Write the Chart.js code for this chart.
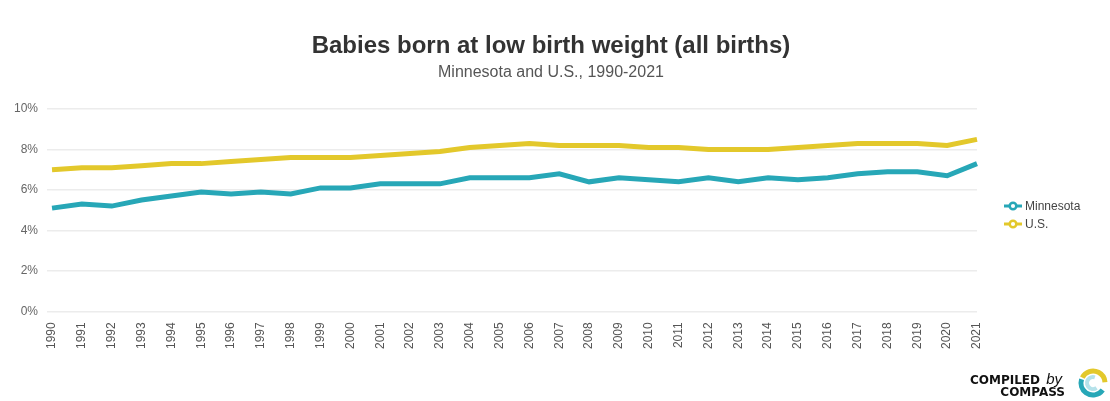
<!DOCTYPE html>
<html lang="en">
<head>
  <meta charset="UTF-8" />
  <title>Babies born at low birth weight</title>
  <script src="https://cdn.jsdelivr.net/npm/chart.js"></script>
  <style>
    html, body { margin: 0; padding: 0; background: #fff; }
    #wrap { width: 1110px; height: 401px; position: relative; }
  </style>
</head>
<body>
  <div id="wrap"><canvas id="lineChart"></canvas></div>
  <script>
    const years = ['1990','1991','1992','1993','1994','1995','1996','1997','1998','1999','2000',
      '2001','2002','2003','2004','2005','2006','2007','2008','2009','2010',
      '2011','2012','2013','2014','2015','2016','2017','2018','2019','2020','2021'];
    const minnesota = [5.1, 5.3, 5.2, 5.5, 5.7, 5.9, 5.8, 5.9, 5.8, 6.1, 6.1,
      6.3, 6.3, 6.3, 6.6, 6.6, 6.6, 6.8, 6.4, 6.6, 6.5,
      6.4, 6.6, 6.4, 6.6, 6.5, 6.6, 6.8, 6.9, 6.9, 6.7, 7.3];
    const us = [7.0, 7.1, 7.1, 7.2, 7.3, 7.3, 7.4, 7.5, 7.6, 7.6, 7.6,
      7.7, 7.8, 7.9, 8.1, 8.2, 8.3, 8.2, 8.2, 8.2, 8.1,
      8.1, 8.0, 8.0, 8.0, 8.1, 8.2, 8.3, 8.3, 8.3, 8.2, 8.5];

    const tealColor = '#27a7b7';
    const yellowColor = '#e3c82b';

    // legend drawn by hand: short line with an open circle, then the label
    const sideLegend = {
      id: 'sideLegend',
      afterDraw(chart) {
        const ctx = chart.ctx;
        ctx.save();
        ctx.font = '12px "Liberation Sans", Arial, sans-serif';
        ctx.textBaseline = 'middle';
        ctx.textAlign = 'left';
        chart.data.datasets.forEach((ds, i) => {
          const x = 1004, y = 206 + i * 18;
          ctx.strokeStyle = ds.borderColor;
          ctx.lineWidth = 3;
          ctx.beginPath(); ctx.moveTo(x, y); ctx.lineTo(x + 18, y); ctx.stroke();
          ctx.fillStyle = '#fff';
          ctx.lineWidth = 2.5;
          ctx.beginPath(); ctx.arc(x + 9, y, 3.3, 0, Math.PI * 2); ctx.fill(); ctx.stroke();
          ctx.fillStyle = '#444';
          ctx.fillText(ds.label, x + 21, y + 0.5);
        });
        ctx.restore();
      }
    };

    const compassLogo = {
      id: 'compassLogo',
      afterDraw(chart) {
        const ctx = chart.ctx;
        ctx.save();
        ctx.fillStyle = '#111';
        ctx.textAlign = 'right';
        ctx.textBaseline = 'alphabetic';
        ctx.font = 'italic 15px "Liberation Sans", Arial, sans-serif';
        ctx.fillText('by', 1062, 384);
        ctx.font = 'bold 12px "DejaVu Sans", sans-serif';
        ctx.fillText('COMPILED', 1040, 384);
        ctx.fillText('COMPASS', 1065, 396);
        // ring
        const cx = 1093, cy = 383;
        ctx.lineWidth = 5;
        ctx.strokeStyle = yellowColor;
        ctx.beginPath(); ctx.arc(cx, cy, 12, -Math.PI * 0.85, -Math.PI * 0.02); ctx.stroke();
        ctx.strokeStyle = tealColor;
        ctx.beginPath(); ctx.arc(cx, cy, 12, Math.PI * 0.2, Math.PI * 1.1); ctx.stroke();
        ctx.strokeStyle = '#b5e2ea';
        ctx.lineWidth = 4;
        ctx.beginPath(); ctx.arc(cx, cy, 6, Math.PI * 0.3, Math.PI * 1.6); ctx.stroke();
        ctx.restore();
      }
    };

    Chart.defaults.font.family = '"Liberation Sans", Arial, sans-serif';
    Chart.defaults.color = '#666';

    new Chart(document.getElementById('lineChart').getContext('2d'), {
      type: 'line',
      data: {
        labels: years,
        datasets: [
          { label: 'Minnesota', data: minnesota, borderColor: tealColor, backgroundColor: tealColor },
          { label: 'U.S.', data: us, borderColor: yellowColor, backgroundColor: yellowColor }
        ]
      },
      options: {
        responsive: true,
        maintainAspectRatio: false,
        animation: false,
        elements: {
          line: { borderWidth: 5, tension: 0 },
          point: { radius: 0, hoverRadius: 0 }
        },
        layout: { padding: { top: 20, left: 5, right: 13, bottom: 49 } },
        plugins: {
          title: {
            display: true,
            text: 'Babies born at low birth weight (all births)',
            color: '#333',
            font: { size: 24, weight: 'bold' },
            padding: { top: 12, bottom: 2 }
          },
          subtitle: {
            display: true,
            text: 'Minnesota and U.S., 1990-2021',
            color: '#555',
            font: { size: 16 },
            padding: { bottom: 27 }
          },
          legend: { display: false },
          tooltip: { enabled: false }
        },
        scales: {
          x: {
            grid: { display: false },
            border: { display: false },
            ticks: { maxRotation: 90, minRotation: 90, autoSkip: false, font: { size: 12 }, color: '#555' }
          },
          y: {
            min: 0,
            max: 10,
            border: { display: false },
            grid: { color: '#ececec', lineWidth: 1.5, tickLength: 5, tickColor: '#ececec' },
            ticks: { stepSize: 2, padding: 9, font: { size: 12 }, color: '#666', callback: v => v + '%' }
          },
          // empty axis on the right that just reserves room for the legend
          yRight: {
            position: 'right',
            min: 0,
            max: 10,
            grid: { display: false },
            border: { display: false },
            ticks: { display: false },
            afterFit(scale) { scale.width = 120; }
          }
        }
      },
      plugins: [sideLegend, compassLogo]
    });
  </script>
</body>
</html>
